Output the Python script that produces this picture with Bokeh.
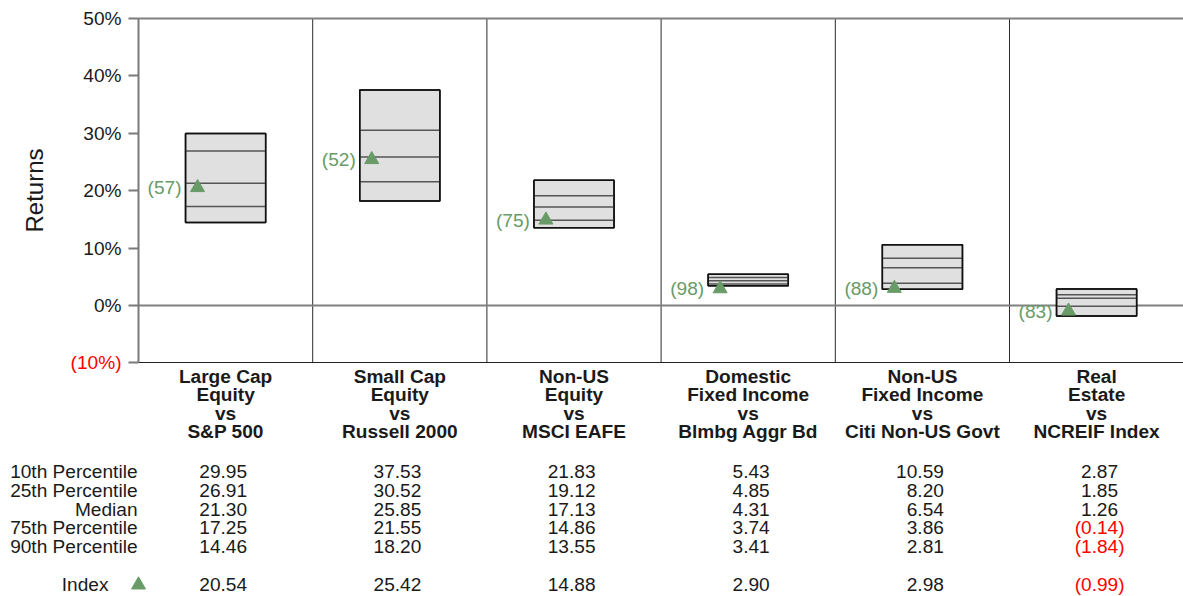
from bokeh.plotting import figure
from bokeh.layouts import column
from bokeh.models import Range1d, FixedTicker, LinearAxis, ColumnDataSource
from bokeh.embed import file_html
from bokeh.resources import INLINE
from bokeh.core.properties import value

# ---------------- data ----------------
categories = [
    "Large Cap\nEquity\nvs\nS&P 500",
    "Small Cap\nEquity\nvs\nRussell 2000",
    "Non-US\nEquity\nvs\nMSCI EAFE",
    "Domestic\nFixed Income\nvs\nBlmbg Aggr Bd",
    "Non-US\nFixed Income\nvs\nCiti Non-US Govt",
    "Real\nEstate\nvs\nNCREIF Index",
]
p10 = [29.95, 37.53, 21.83, 5.43, 10.59, 2.87]
p25 = [26.91, 30.52, 19.12, 4.85, 8.20, 1.85]
median = [21.30, 25.85, 17.13, 4.31, 6.54, 1.26]
p75 = [17.25, 21.55, 14.86, 3.74, 3.86, -0.14]
p90 = [14.46, 18.20, 13.55, 3.41, 2.81, -1.84]
index_vals = [20.54, 25.42, 14.88, 2.90, 2.98, -0.99]
ranks = [57, 52, 75, 98, 88, 83]
y_ticks = [-10, 0, 10, 20, 30, 40, 50]
row_names = ["10th Percentile", "25th Percentile", "Median", "75th Percentile", "90th Percentile", "Index"]

# ---------------- style / layout ----------------
FONT = "Liberation Sans"
FS = "19.1px"
GREEN = "#689b68"
RED = "#ff0000"
TXT = "#1a1a1a"
AXIS_GRAY = "#7a7a7a"
W = 1183
UNIT_PX = 174.2          # pixels per category
LEFT_PX = 138            # where the category area starts
X_START = -LEFT_PX / UNIT_PX
X_END = (W - LEFT_PX) / UNIT_PX
BOX_HALF = 0.23
Y_MIN, Y_MAX = y_ticks[0], y_ticks[-1]
PX_PER_PCT = 5.738
TOP_GAP_PX = 18
H1 = 448
Y_TOP = Y_MAX + TOP_GAP_PX / PX_PER_PCT
Y_BOTTOM = Y_TOP - H1 / PX_PER_PCT

def fmt(v):
    return f"({abs(v):.2f})" if v < 0 else f"{v:.2f}"

def pct(t):
    return f"({abs(t)}%)" if t < 0 else f"{t}%"

n = len(categories)
centers = [i + 0.5 for i in range(n)]

# ---------------- chart figure ----------------
p = figure(width=W, height=H1, output_backend="svg", toolbar_location=None,
           x_range=Range1d(X_START, X_END), y_range=Range1d(Y_BOTTOM, Y_TOP),
           x_axis_location=None, y_axis_location=None,
           min_border_left=0, min_border_right=0, min_border_top=0, min_border_bottom=0)
p.frame_align = False
p.outline_line_color = None
p.grid.visible = False
p.background_fill_color = "white"
p.border_fill_color = "white"

# separators and reference lines
seps = list(range(1, n))
p.segment(x0=seps, x1=seps, y0=[Y_MIN] * len(seps), y1=[Y_MAX] * len(seps),
          line_color="#2a2a2a", line_width=1)
p.segment(x0=[0, 0], x1=[X_END, X_END], y0=[Y_MAX, 0], y1=[Y_MAX, 0],
          line_color="#808080", line_width=2)

src = ColumnDataSource(dict(
    x=centers, left=[c - BOX_HALF for c in centers], right=[c + BOX_HALF for c in centers],
    p10=p10, p25=p25, med=median, p75=p75, p90=p90, idx=index_vals,
    tri_x=[c - BOX_HALF + 12 / UNIT_PX for c in centers],
    rank=[f"({r})" for r in ranks],
))
p.quad(left="left", right="right", top="p10", bottom="p90", source=src,
       fill_color="#e0e0e0", line_color="#111111", line_width=1.5)
for col in ["p25", "med", "p75"]:
    p.segment(x0="left", x1="right", y0=col, y1=col, source=src, line_color="#555555", line_width=1.5)
p.quad(left="left", right="right", top="p10", bottom="p90", source=src,
       fill_color=None, line_color="#111111", line_width=1.5)
p.scatter(x="tri_x", y="idx", source=src, marker="triangle", size=14,
          fill_color=GREEN, line_color=GREEN)
p.text(x="tri_x", y="idx", text="rank", source=src, x_offset=-16,
       text_align="right", text_baseline="middle", text_color=GREEN,
       text_font=value(FONT), text_font_size=FS)

# y axis (placed at the left edge of the category area)
ya = LinearAxis(fixed_location=0, bounds=(Y_MIN, Y_MAX), ticker=FixedTicker(ticks=y_ticks),
                major_label_overrides={t: ("" if t < 0 else pct(t)) for t in y_ticks})
ya.minor_tick_line_color = None
ya.major_tick_line_color = AXIS_GRAY
ya.major_tick_line_width = 2
ya.major_tick_out = 10
ya.major_tick_in = 0
ya.major_label_standoff = 7
ya.major_label_text_font = FONT
ya.major_label_text_font_size = FS
ya.major_label_text_color = TXT
ya.axis_line_color = AXIS_GRAY
ya.axis_line_width = 2
ya.axis_label = "Returns"
ya.axis_label_text_font = FONT
ya.axis_label_text_font_size = "24px"
ya.axis_label_text_font_style = "normal"
ya.axis_label_text_color = TXT
ya.axis_label_standoff = 32
p.add_layout(ya, "left")

# negative tick labels in red
neg_ticks = [t for t in y_ticks if t < 0]
p.text(x=[0] * len(neg_ticks), y=neg_ticks, text=[pct(t) for t in neg_ticks], x_offset=-17,
       text_align="right", text_baseline="middle", text_color=RED,
       text_font=value(FONT), text_font_size=FS)

# x axis with category labels
xa = LinearAxis(fixed_location=Y_MIN, bounds=(0, X_END), ticker=FixedTicker(ticks=centers),
                major_label_overrides={c: lab for c, lab in zip(centers, categories)})
xa.axis_line_color = "#222222"
xa.axis_line_width = 1
xa.major_tick_line_color = None
xa.minor_tick_line_color = None
xa.major_label_standoff = -3
xa.major_label_text_font = FONT
xa.major_label_text_font_size = FS
xa.major_label_text_font_style = "bold"
xa.major_label_text_color = TXT
xa.major_label_text_line_height = 0.875
p.add_layout(xa, "below")

# ---------------- table figure ----------------
ROW_PX = 18.75
H2 = 596 - H1
TOP_PAD = 23
row_pos = [0, 1, 2, 3, 4, 6.05]
t = figure(width=W, height=H2, output_backend="svg", toolbar_location=None,
           x_range=Range1d(X_START, X_END),
           y_range=Range1d((H2 - TOP_PAD) / ROW_PX, -TOP_PAD / ROW_PX),
           min_border_left=0, min_border_right=0, min_border_top=0, min_border_bottom=0)
t.frame_align = False
t.axis.visible = False
t.grid.visible = False
t.outline_line_color = None

lab_off = [-1, -1, -1, -1, -1, -30]
t.text(x=[0] * len(row_names), y=row_pos, text=row_names, x_offset=lab_off,
       text_align="right", text_baseline="middle", text_color=TXT,
       text_font=value(FONT), text_font_size=FS)
t.scatter(x=[0], y=[row_pos[-1]], marker="triangle", size=14, fill_color=GREEN, line_color=GREEN)

rows = [p10, p25, median, p75, p90, index_vals]
xs, ys, txt, cols, offs = [], [], [], [], []
for r, vals in enumerate(rows):
    for i, v in enumerate(vals):
        xs.append(centers[i])
        ys.append(row_pos[r])
        txt.append(fmt(v))
        cols.append(RED if v < 0 else TXT)
        offs.append(28 if v < 0 else 21.5)
t.text(x=xs, y=ys, text=txt, x_offset=offs, text_color=cols,
       text_align="right", text_baseline="middle",
       text_font=value(FONT), text_font_size=FS)

layout = column(p, t, spacing=0)
open("out.html", "w").write(file_html(layout, INLINE))
